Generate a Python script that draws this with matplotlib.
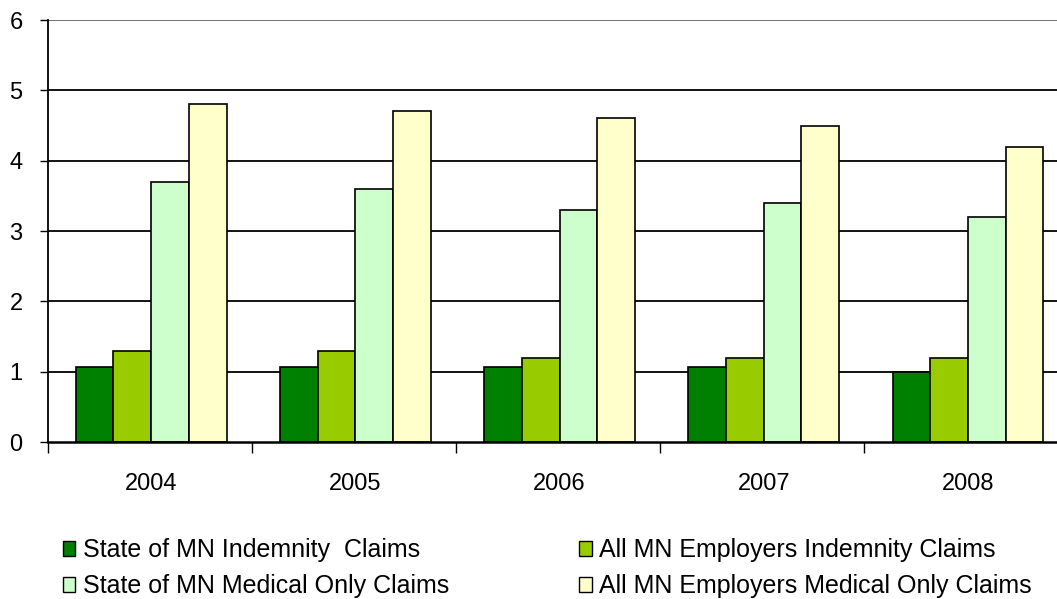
import numpy as np
import matplotlib.pyplot as plt
from matplotlib.patches import Patch

plt.rcParams["font.family"] = ["Liberation Sans", "DejaVu Sans"]

years = ["2004", "2005", "2006", "2007", "2008"]
series_names = [
    "State of MN Indemnity  Claims",
    "All MN Employers Indemnity Claims",
    "State of MN Medical Only Claims",
    "All MN Employers Medical Only Claims",
]
state_indemnity = [1.07, 1.07, 1.07, 1.07, 1.0]
all_indemnity = [1.3, 1.3, 1.2, 1.2, 1.2]
state_medical = [3.7, 3.6, 3.3, 3.4, 3.2]
all_medical = [4.8, 4.7, 4.6, 4.5, 4.2]
colors = ["#008000", "#99CC00", "#CCFFCC", "#FFFFCC"]

fig = plt.figure(figsize=(10.57, 5.99), dpi=100)
ax = fig.add_axes([0.045, 0.2621, 0.966, 0.7045])

x = np.arange(len(years))
w = 0.1847
data = [state_indemnity, all_indemnity, state_medical, all_medical]
for i, vals in enumerate(data):
    ax.bar(x + (i - 1.5) * w, vals, width=w, color=colors[i],
           edgecolor="black", linewidth=1.2, zorder=3)

left = -0.507
ax.set_xlim(left, left + len(years))
ax.set_ylim(0, 6)
ax.set_yticks(range(7))
ax.tick_params(axis="y", length=6, width=1, labelsize=17, pad=12)
for yv in range(1, 7):
    ax.axhline(yv, color="black" if yv < 6 else "#666666", linewidth=1.3, zorder=1)

ax.set_xticks(x)
ax.set_xticklabels(years, fontsize=17)
ax.tick_params(axis="x", length=0, pad=22)
ax.set_xticks(left + np.arange(len(years) + 1), minor=True)
ax.tick_params(axis="x", which="minor", length=8, width=1, direction="out")

for s in ["top", "right"]:
    ax.spines[s].set_visible(False)
ax.spines["left"].set_linewidth(1.3)
ax.spines["bottom"].set_linewidth(1.8)
ax.spines["bottom"].set_zorder(4)

order = [0, 2, 1, 3]
handles = [Patch(facecolor=colors[i], edgecolor="black", linewidth=1) for i in order]
labels = [series_names[i] for i in order]
fig.legend(handles, labels, loc="upper left", ncol=2,
           bbox_to_anchor=(0.0596, 0.102), frameon=False, fontsize=18,
           borderpad=0, borderaxespad=0,
           handlelength=0.5, handleheight=0.55, handletextpad=0.3,
           columnspacing=5.2, labelspacing=0.48)

fig.savefig("out.png", dpi=100, facecolor="white")
